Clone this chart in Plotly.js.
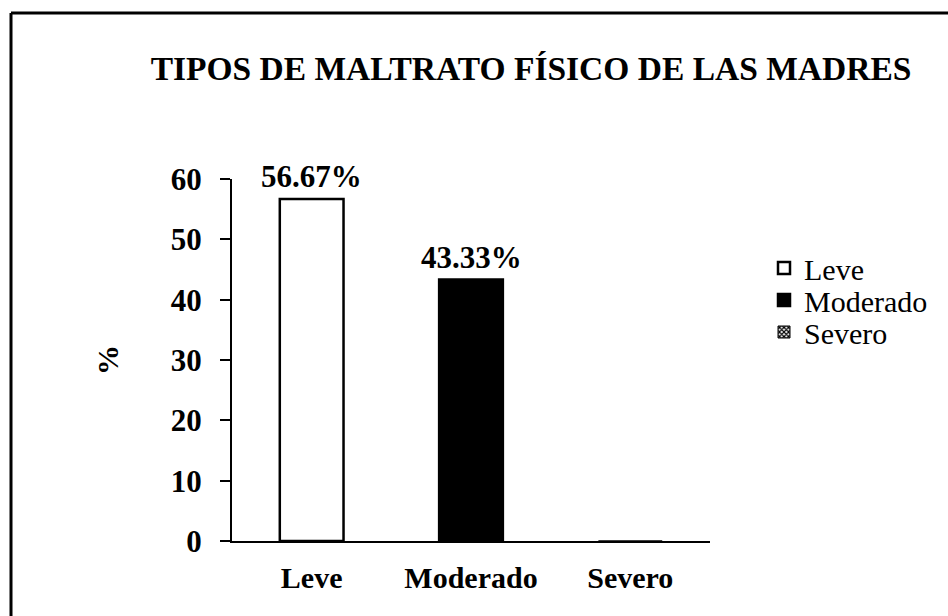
<!DOCTYPE html>
<html>
<head>
<meta charset="utf-8">
<script src="https://cdn.plot.ly/plotly-3.0.1.min.js"></script>
<style>html,body{margin:0;padding:0;background:#fff;}#chart{width:948px;height:616px;}</style>
</head>
<body>
<div id="chart"></div>
<script>
const categories = ["Leve", "Moderado", "Severo"];
const values = [56.67, 43.33, 0];
const valueLabels = ["56.67%", "43.33%", ""];
const yTicks = [0, 10, 20, 30, 40, 50, 60];
const chartTitle = "TIPOS DE MALTRATO FÍSICO DE LAS MADRES";
const yTitle = "%";

const serif = "'Liberation Serif', 'Times New Roman', Times, serif";
const fills = ["#ffffff", "#000000", "#ffffff"];
const patterns = ["", "", "x"];
const lineWidths = [2.5, 2.5, 1];
const legendIds = ["legend", "legend2", "legend3"];
const legendY = [268, 300, 332];

const traces = categories.map((c, i) => ({
  type: "bar",
  name: c,
  x: [c],
  y: [values[i]],
  legend: legendIds[i],
  marker: {
    color: fills[i],
    line: {color: "#000", width: lineWidths[i]},
    pattern: patterns[i] ? {shape: patterns[i], fgcolor: "#000", bgcolor: "#fff", size: 4, solidity: 0.6} : undefined
  },
  hoverinfo: "skip"
}));

const annotations = categories.map((c, i) => ({
  x: c, y: values[i], xref: "x", yref: "y",
  text: valueLabels[i], showarrow: false,
  yanchor: "bottom", yshift: 3,
  font: {family: serif, size: 31, color: "#000", weight: "bold"}
})).filter(a => a.text);

const layout = {
  width: 948, height: 616,
  paper_bgcolor: "#fff", plot_bgcolor: "#fff",
  font: {family: serif, color: "#000"},
  margin: {l: 232, r: 238, t: 179, b: 75},
  bargap: 0.6,
  showlegend: true,
  title: {
    text: chartTitle,
    font: {family: serif, size: 33.5, color: "#000", weight: "bold"},
    x: 531/948, xanchor: "center", xref: "container",
    y: 1 - 68/616, yanchor: "middle", yref: "container"
  },
  xaxis: {
    type: "category",
    categoryorder: "array", categoryarray: categories,
    showline: true, linecolor: "#000", linewidth: 2,
    ticks: "", showgrid: false, zeroline: false,
    tickfont: {family: serif, size: 30, color: "#000", weight: "bold"},
    ticklabelstandoff: 9
  },
  yaxis: {
    range: [0, 60], tickvals: yTicks, ticktext: yTicks.map(String),
    showline: true, linecolor: "#000", linewidth: 2,
    ticks: "outside", ticklen: 10, tickwidth: 2, tickcolor: "#000",
    showgrid: false, zeroline: false,
    tickfont: {family: serif, size: 31, color: "#000", weight: "bold"},
    ticklabelstandoff: 12,
    title: {text: yTitle, font: {family: serif, size: 30, color: "#000", weight: "bold"}, standoff: 43}
  },
  annotations: annotations,
  shapes: [
    {type: "line", xref: "paper", yref: "paper", x0: (11-232)/478, x1: (948-232)/478, y0: (541-13)/362, y1: (541-13)/362, line: {color: "#000", width: 3}},
    {type: "line", xref: "paper", yref: "paper", x0: (11-232)/478, x1: (11-232)/478, y0: (541-13)/362, y1: (541-616)/362, line: {color: "#000", width: 3}}
  ]
};

legendIds.forEach((id, i) => {
  layout[id] = {
    x: (764-232)/478, xanchor: "left",
    y: (541-legendY[i])/362, yanchor: "middle",
    font: {family: serif, size: 30, color: "#000"},
    itemwidth: 30,
    bgcolor: "rgba(0,0,0,0)"
  };
});

Plotly.newPlot("chart", traces, layout, {displayModeBar: false, staticPlot: true});
</script>
</body>
</html>
